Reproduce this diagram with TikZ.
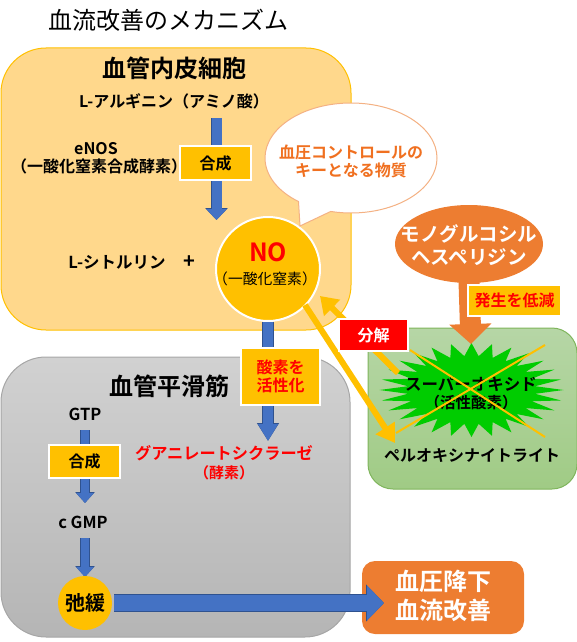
\documentclass[tikz,border=0pt]{standalone}
\usepackage{fontspec}
\setmainfont{Noto Sans CJK JP}[BoldFont={Noto Sans CJK JP Bold}]
\usetikzlibrary{arrows.meta,shapes.geometric,shapes.callouts,calc}
\definecolor{boxorange}{HTML}{FFD88C}
\definecolor{gold}{HTML}{FFC000}
\definecolor{bluefill}{HTML}{4472C4}
\definecolor{blueedge}{HTML}{2F528F}
\definecolor{orangefill}{HTML}{ED7D31}
\definecolor{bubbleedge}{HTML}{F4B183}
\definecolor{bubbletext}{HTML}{F07020}
\definecolor{greenedge}{HTML}{7FB55C}
\definecolor{burst}{HTML}{00CC00}
\newcommand{\fs}[1]{\fontsize{#1}{#1}\selectfont}
\tikzset{
  txt/.style={inner sep=0pt,font=\bfseries\fs{#1},align=center},
  lbl/.style={fill=gold,draw=white,line width=2pt,inner sep=0pt,font=\bfseries\fs{16},align=center},
  blockarrow/.style n args={3}{line width=#1,draw=bluefill,
    -{Triangle[length=#2,width=#3]},
    preaction={draw=blueedge,line width=#1+1.2pt,-{Triangle[length=#2+1pt,width=#3+2pt]}}},
  goldarrow/.style n args={3}{line width=#1,draw=gold,-{Triangle[length=#2,width=#3]}},
  cross/.style={draw=gold,line width=2pt},
}
\begin{document}
\begin{tikzpicture}[x=1pt,y=-1pt]
\useasboundingbox (0,0) rectangle (577,642);
\node[inner sep=0pt,font=\fs{24}] (title) at (168,20) {血流改善のメカニズム};

% panels
\node[draw=gold,fill=boxorange,line width=1pt,rounded corners=45pt,minimum width=350pt,minimum height=282pt,inner sep=0pt] (endo) at (176,189) {};
\node[draw=black!35,top color=black!18,bottom color=black!29,line width=1pt,rounded corners=45pt,minimum width=349pt,minimum height=280pt,inner sep=0pt] (smooth) at (175.5,497) {};
\node[draw=greenedge,top color={rgb,255:red,182;green,214;blue,166},bottom color={rgb,255:red,160;green,203;blue,133},line width=1pt,rounded corners=25pt,minimum width=209pt,minimum height=161pt,inner sep=0pt] (green) at (472.5,408.5) {};

% endothelium texts
\node[txt=24] (h1) at (174,68) {血管内皮細胞};
\node[txt=16] (arg) at (174,101) {L-アルギニン（アミノ酸）};
\node[txt=16,text width=170pt] (enos) at (96,158) {eNOS\\[2pt]（一酸化窒素合成酵素）};
\node[txt=16.5] (cit) at (117,262) {L-シトルリン};
\node[txt=20] (plus) at (189,262) {+};

% NO circle
\node[circle,fill=gold,draw=white,line width=2pt,minimum size=104pt,inner sep=0pt] (no) at (268,269) {};
\node[txt=25,text=red] (notxt) at (268,252) {NO};
\node[inner sep=0pt,font=\fs{14.8}] (notxt2) at (265,279) {（一酸化窒素）};

\coordinate (a1s) at (216.5,118);
\coordinate (a1e) at (216.5,220);
\draw[blockarrow={10pt}{11pt}{20pt}] (a1s) -- (a1e);
\node[lbl,minimum width=71pt,minimum height=34pt] (syn1) at (215.5,163) {合成};

% callout
\node[ellipse callout,draw=bubbleedge,fill=white,line width=1pt,minimum width=172pt,minimum height=110pt,inner sep=0pt,callout absolute pointer={(300,226)},callout pointer arc=24] (bubble) at (351,158) {};
\node[txt=16,text=bubbletext] (bubbletxt) at (351,161) {血圧コントロールの\\[2pt]キーとなる物質};

% right group
\node[ellipse,fill=orangefill,minimum width=148pt,minimum height=78pt,inner sep=0pt] (mono) at (469,244) {};
\node[txt=19.5,text=white] (monotxt) at (469,245) {モノグルコシル\\[3pt]ヘスペリジン};

\fill[burst] plot[samples=57,domain=0:56,variable=\k] ({471.5+(78+14*cos(\k*180))*cos(\k*6.42857)},{390+(40.5+6.5*cos(\k*180))*sin(\k*6.42857)}) -- cycle;
\coordinate (bursttop) at (471,344);
\node[txt=16.5] (super) at (471,384) {スーパーオキシド};
\node[txt=15.5] (active) at (471,403) {（活性酸素）};
\node[txt=16] (peroxy) at (472,455) {ペルオキシナイトライト};

\coordinate (c1a) at (410,350);
\coordinate (c1b) at (545,437);
\coordinate (c2a) at (545,345);
\coordinate (c2b) at (396,433);
\draw[cross] (c1a) -- (c1b);
\draw[cross] (c2a) -- (c2b);

\draw[line width=21pt,draw=orangefill,-{Triangle[length=20pt,width=41pt]}] ([yshift=2pt]mono.south) -- (bursttop);
\node[lbl,text=red,minimum width=93pt,minimum height=31pt] (low) at (514.5,300.5) {発生を低減};

% gold arrows
\coordinate (g1s) at (398,373);
\coordinate (g1e) at (320,296);
\coordinate (g2s) at (305,305);
\coordinate (g2e) at (395,443);
\draw[goldarrow={6pt}{17pt}{22pt}] (g1s) -- (g1e);
\draw[goldarrow={6pt}{18pt}{22pt}] (g2s) -- (g2e);
\node[fill=red,draw=white,line width=2pt,inner sep=0pt,minimum width=69pt,minimum height=32pt,text=white,font=\bfseries\fs{16}] (split) at (373.5,335) {分解};

% NO to enzyme
\coordinate (a2e) at (268,441);
\draw[blockarrow={10pt}{17pt}{19pt}] (no.south) -- (a2e);
\node[lbl,text=red,minimum width=79pt,minimum height=57pt] (oxy) at (280.5,376.5) {酸素を\\[2pt]活性化};
\node[txt=16.2,text=red] (gc) at (224,453) {グアニレートシクラーゼ};
\node[inner sep=0pt,font=\bfseries\fs{15},text=red] (enz) at (224,473) {（酵素）};

% smooth muscle
\node[txt=24] (h2) at (169,386) {血管平滑筋};
\node[txt=16.5] (gtp) at (85,414) {GTP};
\coordinate (a3s) at (85,430);
\coordinate (a3e) at (85,503);
\draw[blockarrow={8pt}{10pt}{17pt}] (a3s) -- (a3e);
\node[lbl,minimum width=71pt,minimum height=33pt] (syn2) at (84.5,461) {合成};
\node[txt=16.5] (cgmp) at (83,522) {c GMP};
\coordinate (a4s) at (85,538);
\coordinate (a4e) at (85,577);
\draw[blockarrow={8pt}{10pt}{17pt}] (a4s) -- (a4e);
\node[circle,fill=gold,minimum size=54pt,inner sep=0pt,font=\bfseries\fs{20}] (relax) at (85,603) {弛緩};

% outcome
\node[fill=orangefill,rounded corners=13pt,minimum width=162pt,minimum height=73pt,inner sep=0pt] (result) at (443,597.5) {};
\node[inner sep=0pt,text=white,font=\bfseries\fs{24},align=center] (resulttxt) at (443,595.5) {血圧降下\\[5pt]血流改善};
\coordinate (a5s) at (114,603);
\coordinate (a5e) at (384,603);
\draw[blockarrow={16pt}{17pt}{34pt}] (a5s) -- (a5e);
\end{tikzpicture}
\end{document}
